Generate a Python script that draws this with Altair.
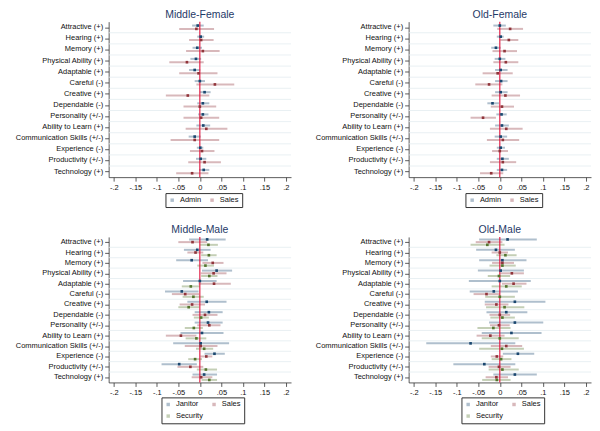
import altair as alt
import pandas as pd

FONT = "Liberation Sans"

CATEGORIES = ["Attractive (+)", "Hearing (+)", "Memory (+)", "Physical Ability (+)",
              "Adaptable (+)", "Careful (-)", "Creative (+)", "Dependable (-)",
              "Personality (+/-)", "Ability to Learn (+)", "Communication Skills (+/-)",
              "Experience (-)", "Productivity (+/-)", "Technology (+)"]
TICKS = [-0.2, -0.15, -0.1, -0.05, 0, 0.05, 0.1, 0.15, 0.2]

# Middle-Female
MF_ADMIN_EST = [-0.005, 0.002, -0.006, -0.009, -0.012, 0.0, 0.011, 0.007, 0.007, 0.008, -0.012, 0.001, 0.002, 0.009]
MF_ADMIN_LO = [-0.018, -0.006, -0.017, -0.022, -0.025, -0.012, 0.0, -0.006, -0.004, -0.008, -0.026, -0.007, -0.009, -0.002]
MF_ADMIN_HI = [0.009, 0.010, 0.005, 0.003, 0.001, 0.012, 0.025, 0.022, 0.020, 0.024, 0.002, 0.008, 0.015, 0.022]
MF_SALES_EST = [-0.008, 0.003, 0.007, -0.030, -0.003, 0.035, -0.028, 0.0, 0.003, 0.015, -0.012, 0.005, 0.011, -0.018]
MF_SALES_LO = [-0.048, -0.025, -0.032, -0.071, -0.048, -0.008, -0.079, -0.038, -0.038, -0.033, -0.068, -0.023, -0.027, -0.055]
MF_SALES_HI = [0.033, 0.032, 0.046, 0.009, 0.041, 0.080, 0.022, 0.038, 0.045, 0.064, 0.045, 0.034, 0.049, 0.020]

# Old-Female
OF_ADMIN_EST = [0.0, 0.002, -0.009, 0.0, 0.002, 0.003, 0.002, -0.017, 0.004, 0.005, 0.002, 0.002, 0.006, 0.005]
OF_ADMIN_LO = [-0.015, -0.007, -0.020, -0.012, -0.011, -0.011, -0.011, -0.029, -0.008, -0.011, -0.012, -0.007, -0.007, -0.007]
OF_ADMIN_HI = [0.014, 0.009, 0.002, 0.013, 0.018, 0.018, 0.018, -0.002, 0.016, 0.021, 0.017, 0.012, 0.021, 0.017]
OF_SALES_EST = [0.024, 0.021, 0.011, 0.014, -0.005, -0.025, 0.013, 0.005, -0.039, 0.015, 0.007, 0.0, 0.007, -0.020]
OF_SALES_LO = [-0.006, 0.001, -0.017, -0.015, -0.040, -0.057, -0.019, -0.021, -0.068, -0.023, -0.030, -0.018, -0.023, -0.046]
OF_SALES_HI = [0.054, 0.043, 0.040, 0.043, 0.030, 0.006, 0.047, 0.033, -0.009, 0.053, 0.045, 0.019, 0.038, 0.008]

# Middle-Male
MM_JAN_EST = [0.017, -0.006, -0.019, 0.039, 0.0, -0.042, 0.016, 0.021, 0.019, 0.005, 0.002, 0.034, -0.048, 0.010]
MM_JAN_LO = [-0.025, -0.037, -0.055, 0.005, -0.039, -0.081, -0.029, -0.012, -0.012, -0.045, -0.062, 0.011, -0.089, -0.017]
MM_JAN_HI = [0.060, 0.025, 0.019, 0.075, 0.039, -0.003, 0.062, 0.053, 0.053, 0.055, 0.068, 0.058, -0.007, 0.040]
MM_SALES_EST = [-0.017, -0.010, 0.030, 0.032, 0.033, -0.034, -0.018, 0.012, 0.022, -0.044, 0.002, 0.015, -0.022, 0.003]
MM_SALES_LO = [-0.050, -0.029, 0.006, 0.002, -0.003, -0.065, -0.047, -0.017, -0.006, -0.079, -0.035, 0.001, -0.052, -0.019]
MM_SALES_HI = [0.017, 0.008, 0.055, 0.062, 0.072, -0.002, 0.012, 0.041, 0.048, -0.008, 0.041, 0.029, 0.008, 0.029]
MM_SEC_EST = [0.020, 0.021, 0.013, 0.022, -0.021, -0.015, -0.026, 0.003, -0.014, -0.008, 0.010, -0.011, 0.014, 0.022]
MM_SEC_LO = [0.0, 0.003, -0.006, 0.003, -0.042, -0.040, -0.050, -0.014, -0.035, -0.033, -0.009, -0.027, -0.007, 0.004]
MM_SEC_HI = [0.042, 0.039, 0.033, 0.041, 0.0, 0.009, -0.001, 0.021, 0.007, 0.015, 0.031, 0.005, 0.040, 0.040]

# Old-Male
OM_JAN_EST = [0.018, -0.009, 0.006, 0.002, 0.0, -0.014, 0.035, 0.015, 0.035, 0.027, -0.068, 0.042, -0.036, 0.035]
OM_JAN_LO = [-0.048, -0.055, -0.048, -0.051, -0.072, -0.070, -0.035, -0.031, -0.025, -0.042, -0.171, 0.007, -0.108, -0.015]
OM_JAN_HI = [0.086, 0.035, 0.062, 0.056, 0.072, 0.042, 0.106, 0.064, 0.101, 0.097, 0.036, 0.080, 0.036, 0.086]
OM_SALES_EST = [-0.025, 0.0, 0.006, 0.028, 0.032, -0.031, -0.008, 0.0, -0.002, -0.022, 0.015, -0.007, -0.002, -0.008]
OM_SALES_LO = [-0.056, -0.019, -0.018, 0.001, 0.005, -0.061, -0.035, -0.024, -0.023, -0.054, -0.021, -0.021, -0.026, -0.033]
OM_SALES_HI = [0.006, 0.019, 0.033, 0.056, 0.062, 0.0, 0.020, 0.024, 0.023, 0.011, 0.052, 0.008, 0.025, 0.019]
OM_SEC_EST = [-0.029, 0.013, 0.006, -0.002, 0.015, 0.0, 0.011, 0.006, -0.015, 0.0, 0.005, 0.003, 0.006, -0.007]
OM_SEC_LO = [-0.068, -0.008, -0.024, -0.028, -0.019, -0.034, -0.032, -0.022, -0.052, -0.042, -0.048, -0.019, -0.026, -0.041]
OM_SEC_HI = [0.011, 0.039, 0.037, 0.024, 0.051, 0.035, 0.057, 0.035, 0.025, 0.044, 0.056, 0.027, 0.044, 0.025]

COLORS = {"Admin": "#1a476f", "Janitor": "#1a476f", "Sales": "#90353b", "Security": "#55752f"}
TITLE_COLOR = "#1f3a68"
ZERO_COLOR = "#e0103a"
GRID_COLOR = "#e3ecf0"
AXIS_COLOR = "#333333"

W = 183

X_LABEL_EXPR = ("datum.value < 0 ? '-' + replace(format(-datum.value, '.2~f'), '0.', '.') "
                ": replace(format(datum.value, '.2~f'), '0.', '.')")


def panel(title, series, height, offsets, legend_x, legend_y):
    rows = []
    for (name, est, lo, hi), off in zip(series, offsets):
        for i, cat in enumerate(CATEGORIES):
            rows.append({"series": name, "cat": cat, "pos": i + off,
                         "est": est[i], "lo": lo[i], "hi": hi[i],
                         "ccolor": COLORS[name]})
    df = pd.DataFrame(rows)
    names = [s[0] for s in series]
    cscale = alt.Scale(domain=names, range=[COLORS[n] for n in names])
    n = len(CATEGORIES)
    yscale = alt.Scale(domain=[-0.5, n - 0.5], reverse=True, nice=False, zero=False)
    xscale = alt.Scale(domain=[-0.212, 0.212], nice=False, zero=False)

    xaxis = alt.Axis(values=TICKS, labelExpr=X_LABEL_EXPR, title="", grid=False,
                     tickSize=4, tickColor=AXIS_COLOR, domainColor=AXIS_COLOR,
                     domainWidth=0.8, tickWidth=0.8,
                     labelFontSize=7.5, labelFont=FONT, labelColor="#111",
                     labelPadding=2, labelFlush=False, labelOverlap=False)
    yaxis = alt.Axis(values=list(range(n)), labels=False, title="", grid=False,
                     tickSize=4, tickColor=AXIS_COLOR, domainColor=AXIS_COLOR,
                     domainWidth=0.8, tickWidth=0.8)

    cats = pd.DataFrame({"cat": CATEGORIES, "idx": list(range(n))})
    labels = alt.Chart(cats).mark_text(align="right", baseline="middle", fontSize=7.5,
                                       font=FONT, color="#111").encode(
        y=alt.Y("idx:Q", scale=yscale, axis=yaxis),
        x=alt.value(-5.5),
        text="cat:N")

    bounds = pd.DataFrame({"b": [i + 0.5 for i in range(n - 1)]})
    grid = alt.Chart(bounds).mark_rule(color=GRID_COLOR, strokeWidth=0.8).encode(
        y=alt.Y("b:Q", scale=yscale, axis=yaxis),
        x=alt.value(0), x2=alt.value(W))

    ci = alt.Chart(df).mark_rule(strokeWidth=2, opacity=0.35).encode(
        x=alt.X("lo:Q", scale=xscale, axis=xaxis),
        x2="hi:Q",
        y=alt.Y("pos:Q", scale=yscale, axis=yaxis),
        color=alt.Color("ccolor:N", scale=None))

    zero = alt.Chart(pd.DataFrame({"z": [0]})).mark_rule(color=ZERO_COLOR, strokeWidth=1.1).encode(
        x=alt.X("z:Q", scale=xscale, axis=xaxis),
        y=alt.value(0), y2=alt.value(height))

    pts = alt.Chart(df).mark_point(filled=True, shape="square", size=7, opacity=1).encode(
        x=alt.X("est:Q", scale=xscale, axis=xaxis),
        y=alt.Y("pos:Q", scale=yscale, axis=yaxis),
        color=alt.Color("series:N", scale=cscale, legend=alt.Legend(
            title="", orient="none", legendX=legend_x, legendY=legend_y,
            direction="horizontal", columns=2, strokeColor="#333", padding=3,
            labelFontSize=7.5, labelFont=FONT, labelColor="#111", labelOffset=4,
            symbolSize=12, symbolType="square", symbolStrokeWidth=0, symbolOpacity=1,
            columnPadding=7, rowPadding=3)))

    return alt.layer(grid, labels, ci, zero, pts).properties(
        width=W, height=height,
        title=alt.TitleParams(title, fontSize=10.5, font=FONT, color=TITLE_COLOR,
                              fontWeight="normal", anchor="middle", frame="group", offset=1))


p1 = panel("Middle-Female",
           [("Admin", MF_ADMIN_EST, MF_ADMIN_LO, MF_ADMIN_HI),
            ("Sales", MF_SALES_EST, MF_SALES_LO, MF_SALES_HI)],
           156, [-0.15, 0.15], 57, 172)
p2 = panel("Old-Female",
           [("Admin", OF_ADMIN_EST, OF_ADMIN_LO, OF_ADMIN_HI),
            ("Sales", OF_SALES_EST, OF_SALES_LO, OF_SALES_HI)],
           156, [-0.15, 0.15], 57, 172)
p3 = panel("Middle-Male",
           [("Janitor", MM_JAN_EST, MM_JAN_LO, MM_JAN_HI),
            ("Sales", MM_SALES_EST, MM_SALES_LO, MM_SALES_HI),
            ("Security", MM_SEC_EST, MM_SEC_LO, MM_SEC_HI)],
           146, [-0.26, 0.0, 0.26], 53, 161)
p4 = panel("Old-Male",
           [("Janitor", OM_JAN_EST, OM_JAN_LO, OM_JAN_HI),
            ("Sales", OM_SALES_EST, OM_SALES_LO, OM_SALES_HI),
            ("Security", OM_SEC_EST, OM_SEC_LO, OM_SEC_HI)],
           146, [-0.26, 0.0, 0.26], 53, 161)

top = alt.hconcat(p1, p2, spacing=23).resolve_scale(color="independent").resolve_legend(color="independent")
bottom = alt.hconcat(p3, p4, spacing=23).resolve_scale(color="independent").resolve_legend(color="independent")

chart = alt.vconcat(top, bottom, spacing=16).resolve_scale(color="independent").resolve_legend(
    color="independent").properties(
    padding={"left": 7, "top": 0, "right": 0, "bottom": 0},
    background="white"
).configure(font=FONT).configure_view(strokeWidth=0)

chart.save("out.html", embed_options={"renderer": "svg", "actions": False})
